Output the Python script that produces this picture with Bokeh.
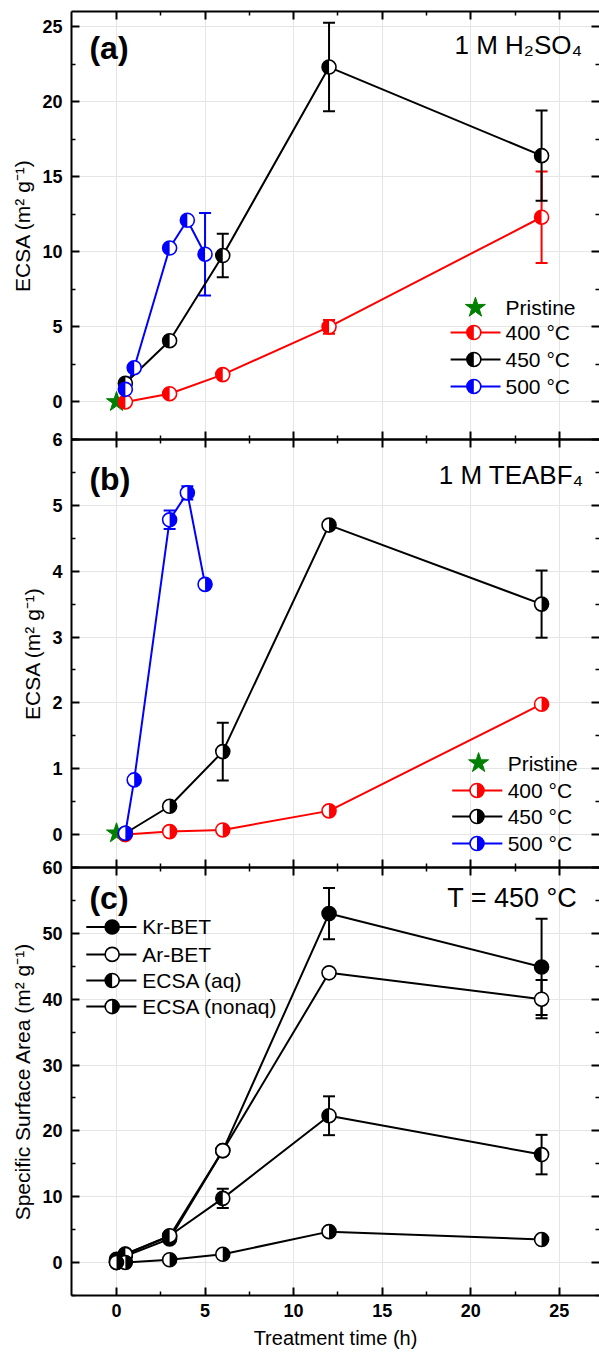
import math
from bokeh.plotting import figure
from bokeh.models import (ColumnDataSource, Range1d, LinearAxis, FixedTicker,
                          Whisker, TeeHead, Label, CustomJSTickFormatter)
from bokeh.layouts import column
from bokeh.embed import file_html
from bokeh.resources import INLINE

FONT = "Liberation Sans"

# ---------------- data ----------------
time_400 = [0.5, 3, 6, 12, 24]
time_450 = [0.5, 3, 6, 12, 24]
time_500 = [0.5, 1, 3, 4, 5]
time_pristine = [0]

# (a) 1 M H2SO4
aq_pristine = [0.0]
aq_400 = [0.0, 0.55, 1.82, 5.0, 12.3]
aq_400_err = [0, 0, 0, 0.45, 3.05]
aq_450 = [1.24, 4.08, 9.75, 22.3, 16.4]
aq_450_err = [0, 0, 1.45, 2.95, 3.0]
aq_500 = [0.84, 2.28, 10.25, 12.1, 9.84]
aq_500_err = [0, 0, 0, 0, 2.75]

# (b) 1 M TEABF4
na_pristine = [0.02]
na_400 = [0.0, 0.045, 0.07, 0.36, 1.98]
na_400_err = [0, 0, 0, 0, 0]
na_450 = [0.02, 0.43, 1.26, 4.70, 3.50]
na_450_err = [0, 0, 0.44, 0.05, 0.51]
na_500 = [0.02, 0.83, 4.78, 5.19, 3.80]
na_500_err = [0, 0, 0.14, 0.10, 0]

# (c) T = 450 °C
time_c = [0, 0.5, 3, 6, 12, 24]
kr_bet = [0.5, 1.0, 3.6, 17.0, 53.0, 44.9]
kr_bet_err = [0, 0, 0, 0, 3.9, 7.3]
ar_bet = [0.2, 1.3, 4.0, 17.0, 44.0, 40.0]
ar_bet_err = [0, 0, 0, 0, 0.5, 2.9]
ecsa_aq = [0.0, 1.24, 4.08, 9.75, 22.3, 16.4]
ecsa_aq_err = [0, 0, 0, 1.45, 2.95, 3.0]
ecsa_nonaq = [0.02, 0.02, 0.43, 1.26, 4.70, 3.50]
ecsa_nonaq_err = [0, 0, 0, 0, 0, 0]

x_major = [0, 5, 10, 15, 20, 25]
x_minor = [2.5, 7.5, 12.5, 17.5, 22.5]
ya_major = [0, 5, 10, 15, 20, 25]
ya_minor = [-2.5, 2.5, 7.5, 12.5, 17.5, 22.5]
yb_major = [0, 1, 2, 3, 4, 5, 6]
yb_minor = [-0.5, 0.5, 1.5, 2.5, 3.5, 4.5, 5.5]
yc_major = [0, 10, 20, 30, 40, 50, 60]
yc_minor = [-5, 5, 15, 25, 35, 45, 55]

X_RANGE = (-2.54, 27.27)
RED, BLACK, BLUE, GREEN = "#ff0000", "#000000", "#0000ff", "#008000"
MSIZE = 14


def style_axis(ax, labels=True, line=True):
    ax.axis_line_width = 2
    ax.axis_line_color = "black" if line else None
    ax.major_tick_line_color = "black"
    ax.minor_tick_line_color = "black"
    ax.major_tick_in = 8
    ax.major_tick_out = 0
    ax.minor_tick_in = 4
    ax.minor_tick_out = 0
    ax.major_tick_line_width = 2
    ax.minor_tick_line_width = 1.5
    if labels:
        ax.major_label_text_font = FONT
        ax.major_label_text_font_style = "bold"
        ax.major_label_text_font_size = "18px"
        ax.major_label_text_color = "black"
        ax.major_label_standoff = 9
        ax.axis_label_text_font = FONT
        ax.axis_label_text_font_style = "normal"
        ax.axis_label_text_font_size = "21px"
        ax.axis_label_text_color = "black"
        ax.axis_label_standoff = 5
    else:
        ax.major_label_text_font_size = "0px"
        ax.major_label_standoff = 0
        ax.formatter = CustomJSTickFormatter(code="return ''")


def make_fig(height, yr, top, bottom, ymaj, ymin, ylabel, xlabels, margin_top=None):
    p = figure(width=599, height=height, x_range=Range1d(*X_RANGE), y_range=Range1d(*yr),
               output_backend="svg", toolbar_location=None,
               x_axis_location=None, y_axis_location=None,
               min_border_left=71, min_border_right=0,
               min_border_top=top, min_border_bottom=bottom,
               background_fill_color=None, border_fill_color=None,
               outline_line_color=None)
    if margin_top is not None:
        p.margin = (margin_top, 0, 0, 0)
    p.extra_x_ranges = {"fx": Range1d(0, 1)}
    p.extra_y_ranges = {"fy": Range1d(0, 1)}
    xt = FixedTicker(ticks=x_major, minor_ticks=x_minor)
    yt = FixedTicker(ticks=ymaj, minor_ticks=ymin)
    left = LinearAxis(ticker=yt, axis_label=ylabel)
    style_axis(left, True)
    p.add_layout(left, "left")
    right = LinearAxis(ticker=yt)
    style_axis(right, False, line=False)
    p.add_layout(right, "right")
    above = LinearAxis(ticker=xt)
    style_axis(above, False)
    p.add_layout(above, "above")
    below = LinearAxis(ticker=xt, axis_label="Treatment time (h)" if xlabels else None)
    style_axis(below, xlabels)
    if xlabels:
        below.major_label_standoff = 8
        below.axis_label_standoff = 7
        below.axis_label_text_font_size = "20px"
    p.add_layout(below, "below")
    return p


def markers(p, x, y, color, side, **rn):
    p.scatter(x, y, size=MSIZE, marker="circle", fill_color="white", line_color=None, **rn)
    if side == "left":
        p.wedge(x, y, radius=MSIZE / 2, radius_units="screen", start_angle=math.pi / 2,
                end_angle=3 * math.pi / 2, fill_color=color, line_color=None, **rn)
    elif side == "right":
        p.wedge(x, y, radius=MSIZE / 2, radius_units="screen", start_angle=-math.pi / 2,
                end_angle=math.pi / 2, fill_color=color, line_color=None, **rn)
    elif side == "full":
        p.scatter(x, y, size=MSIZE, marker="circle", fill_color=color, line_color=None, **rn)
    p.scatter(x, y, size=MSIZE, marker="circle", fill_color=None, line_color=color,
              line_width=1.6, **rn)


def errorbars(p, x, y, err, color):
    xs = [xi for xi, e in zip(x, err) if e > 0]
    lo = [yi - e for yi, e in zip(y, err) if e > 0]
    hi = [yi + e for yi, e in zip(y, err) if e > 0]
    if not xs:
        return
    src = ColumnDataSource(dict(x=xs, lo=lo, hi=hi))
    w = Whisker(source=src, base="x", lower="lo", upper="hi", dimension="height",
                line_color=color, line_width=2, level="underlay",
                upper_head=TeeHead(size=12, line_color=color, line_width=2),
                lower_head=TeeHead(size=12, line_color=color, line_width=2))
    p.add_layout(w)


def text(p, x, y, s, size, align="left", style="normal"):
    p.add_layout(Label(x=x, y=y, x_range_name="fx", y_range_name="fy", text=s,
                       text_font=FONT, text_font_size=size, text_font_style=style,
                       text_align=align, text_baseline="middle", text_color="black"))


def legend_row(p, lx0, lx1, mx, tx, fy, color, side, label, star=False):
    rn = dict(x_range_name="fx", y_range_name="fy")
    if star:
        p.scatter([mx], [fy], marker="star", size=21, fill_color=GREEN, line_color=GREEN, **rn)
    else:
        p.segment([lx0], [fy], [lx1], [fy], line_color=color, line_width=2, **rn)
        markers(p, [mx], [fy], color, side, **rn)
    text(p, tx, fy, label, "21px")


YLAB = "ECSA (m\u00b2 g\u207b\u00b9)"

# ---------------- panel (a) ----------------
pa = make_fig(447, (-2.5, 26), 11, 8, ya_major, ya_minor, YLAB, False)
for x, y, c in [(time_400, aq_400, RED), (time_450, aq_450, BLACK), (time_500, aq_500, BLUE)]:
    pa.line(x, y, line_color=c, line_width=2)
for x, y, e, c in [(time_400, aq_400, aq_400_err, RED), (time_450, aq_450, aq_450_err, BLACK),
                   (time_500, aq_500, aq_500_err, BLUE)]:
    errorbars(pa, x, y, e, c)
pa.scatter(time_pristine, aq_pristine, marker="star", size=21, fill_color=GREEN, line_color=GREEN)
markers(pa, time_450, aq_450, BLACK, "left")
markers(pa, time_400, aq_400, RED, "left")
markers(pa, time_500, aq_500, BLUE, "left")
legend_row(pa, 0, 0, 0.765, 0.822, 0.308, GREEN, None, "Pristine", star=True)
legend_row(pa, 0.718, 0.8125, 0.762, 0.822, 0.250, RED, "left", "400 \u00b0C")
legend_row(pa, 0.718, 0.8125, 0.762, 0.822, 0.187, BLACK, "left", "450 \u00b0C")
legend_row(pa, 0.718, 0.8125, 0.762, 0.822, 0.124, BLUE, "left", "500 \u00b0C")
text(pa, 0.034, 0.914, "(a)", "32px", style="bold")
text(pa, 0.967, 0.921, "1 M H\u2082SO\u2084", "26px", align="right")

# ---------------- panel (b) ----------------
pb = make_fig(445, (-0.5, 6), 9, 8, yb_major, yb_minor, YLAB, False, margin_top=-17)
for x, y, c in [(time_400, na_400, RED), (time_450, na_450, BLACK), (time_500, na_500, BLUE)]:
    pb.line(x, y, line_color=c, line_width=2)
for x, y, e, c in [(time_400, na_400, na_400_err, RED), (time_450, na_450, na_450_err, BLACK),
                   (time_500, na_500, na_500_err, BLUE)]:
    errorbars(pb, x, y, e, c)
pb.scatter(time_pristine, na_pristine, marker="star", size=21, fill_color=GREEN, line_color=GREEN)
markers(pb, time_400, na_400, RED, "right")
markers(pb, time_450, na_450, BLACK, "right")
markers(pb, time_500, na_500, BLUE, "right")
legend_row(pb, 0, 0, 0.771, 0.826, 0.244, GREEN, None, "Pristine", star=True)
legend_row(pb, 0.721, 0.816, 0.768, 0.826, 0.180, RED, "right", "400 \u00b0C")
legend_row(pb, 0.721, 0.816, 0.768, 0.826, 0.119, BLACK, "right", "450 \u00b0C")
legend_row(pb, 0.721, 0.816, 0.768, 0.826, 0.056, BLUE, "right", "500 \u00b0C")
text(pb, 0.034, 0.907, "(b)", "32px", style="bold")
text(pb, 0.970, 0.918, "1 M TEABF\u2084", "26px", align="right")

# ---------------- panel (c) ----------------
pc = make_fig(497, (-5, 60), 9, 60, yc_major, yc_minor,
              "Specific Surface Area (m\u00b2 g\u207b\u00b9)", True, margin_top=-17)
series_c = [(kr_bet, kr_bet_err, "full"), (ar_bet, ar_bet_err, "none"),
            (ecsa_aq, ecsa_aq_err, "left"), (ecsa_nonaq, ecsa_nonaq_err, "right")]
for y, e, s in series_c:
    pc.line(time_c, y, line_color=BLACK, line_width=2)
for y, e, s in series_c:
    errorbars(pc, time_c, y, e, BLACK)
for y, e, s in series_c:
    markers(pc, time_c, y, BLACK, s)
legend_row(pc, 0.028, 0.123, 0.077, 0.134, 0.861, BLACK, "full", "Kr-BET")
legend_row(pc, 0.028, 0.123, 0.077, 0.134, 0.797, BLACK, "none", "Ar-BET")
legend_row(pc, 0.028, 0.123, 0.077, 0.134, 0.736, BLACK, "left", "ECSA (aq)")
legend_row(pc, 0.028, 0.123, 0.077, 0.134, 0.675, BLACK, "right", "ECSA (nonaq)")
text(pc, 0.034, 0.928, "(c)", "32px", style="bold")
text(pc, 0.958, 0.928, "T = 450 \u00b0C", "27px", align="right")

layout = column(pa, pb, pc, spacing=0)
open("out.html", "w").write(file_html(layout, INLINE))
